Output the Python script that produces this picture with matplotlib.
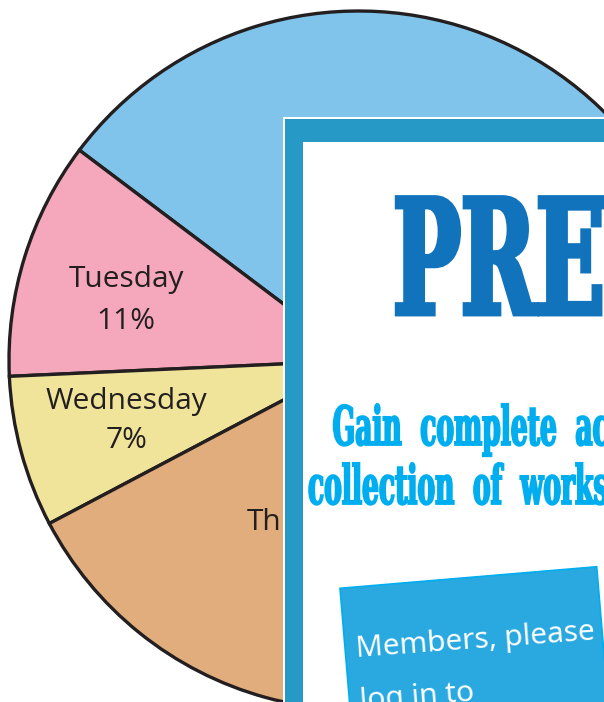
import matplotlib
matplotlib.use("Agg")
import matplotlib.pyplot as plt
import numpy as np
from matplotlib.patches import Rectangle
from matplotlib.patheffects import AbstractPathEffect
from matplotlib.transforms import Affine2D

# pie data (Friday sits fully behind the preview panel)
days = ["Monday", "Tuesday", "Wednesday", "Thursday", "Friday"]
shares = [40, 11, 7, 26, 16]
colors = ["#80c3eb", "#f5a8bb", "#f0e49a", "#e1ad7d", "#b9d99c"]

# preview overlay text
title_text = "PREVIEW"
promo_lines = ["Gain  complete  access  to  the  largest",
               "collection  of  worksheets  in  all  subjects!"]
member_lines = ["Members, please", "log in to", "view answers."]

W, H = 604, 702
INK = "#231f20"
# label placement per wedge: radius (fraction of R), angle nudge (deg), line spacing
label_r = [0.6, 0.687, 0.686, 0.54, 0.6]
label_nudge = [0, 2.7, -0.6, 1.0, 0]
label_ls = [1.5, 1.62, 1.42, 1.55, 1.5]


class Squeeze(AbstractPathEffect):
    """Narrow glyphs horizontally around display x0, optionally fattening them."""
    def __init__(self, sx, x0, grow=0):
        super().__init__()
        self.sx, self.x0, self.grow = sx, x0, grow

    def draw_path(self, renderer, gc, tpath, affine, rgbFace=None):
        sq = Affine2D().translate(-self.x0, 0).scale(self.sx, 1).translate(self.x0, 0)
        gc0 = renderer.new_gc()
        gc0.copy_properties(gc)
        if self.grow:
            gc0.set_linewidth(self.grow)
            gc0.set_foreground(rgbFace)
            gc0.set_joinstyle("miter")
        renderer.draw_path(gc0, tpath, affine + sq, rgbFace)
        gc0.restore()


fig = plt.figure(figsize=(W / 100, H / 100), dpi=100)

# pie: centre (358.5, 360.5) px from top-left, radius 349.5 px
cx, cy, R = 358.5, 360.5, 349.5
ax = fig.add_axes([(cx - R) / W, (H - cy - R) / H, 2 * R / W, 2 * R / H])
wedges, _ = ax.pie(shares, colors=colors, startangle=-1, counterclock=True,
                   wedgeprops=dict(edgecolor=INK, linewidth=2.4))
for w, day, pct, r, dn, ls in zip(wedges, days, shares, label_r, label_nudge, label_ls):
    th = np.deg2rad((w.theta1 + w.theta2) / 2 + dn)
    ax.text(r * np.cos(th), r * np.sin(th), f"{day}\n{pct}%", ha="center",
            va="center", fontsize=21.5, family="Open Sans", color=INK,
            linespacing=ls)
ax.set_xlim(-1, 1)
ax.set_ylim(-1, 1)
ax.set_aspect("auto")
ax.axis("off")

# overlay in pixel coordinates
ov = fig.add_axes([0, 0, 1, 1], zorder=5)
ov.set_xlim(0, W)
ov.set_ylim(H, 0)
ov.axis("off")
ov.patch.set_visible(False)

ov.add_patch(Rectangle((282.5, 116.5), 400, 700, facecolor="white", edgecolor="none"))
ov.add_patch(Rectangle((284.5, 118.5), 400, 700, facecolor="#2699c7", edgecolor="none"))
ov.add_patch(Rectangle((303, 142), 400, 700, facecolor="white", edgecolor="none"))

ov.text(393, 314, title_text, ha="left", va="baseline", fontsize=115,
        family="DejaVu Serif", weight="bold", color="#1273bd",
        path_effects=[Squeeze(0.565, 393, grow=3.5)])

for (x0, yb), line in zip([(332.5, 445), (308, 504)], promo_lines):
    ov.text(x0, yb, line, ha="left", va="baseline", fontsize=39,
            family="DejaVu Serif", weight="bold", color="#00aeef",
            path_effects=[Squeeze(0.49, x0, grow=1.3)])

ov.add_patch(Rectangle((340, 588.3), 257.6, 300, angle=-4.8,
                       facecolor="#29a9e0", edgecolor="#00aeef", linewidth=1.2))
ang = 4.2
for i, line in enumerate(member_lines):
    d = 52 * i
    x = 356.7 + d * np.sin(np.deg2rad(ang))
    y = 656.7 + d * np.cos(np.deg2rad(ang))
    ov.text(x, y, line, ha="left", va="baseline", rotation=ang,
            rotation_mode="anchor", fontsize=21.5, family="Noto Sans",
            weight="medium", color="white")

fig.savefig("out.png", dpi=100)
